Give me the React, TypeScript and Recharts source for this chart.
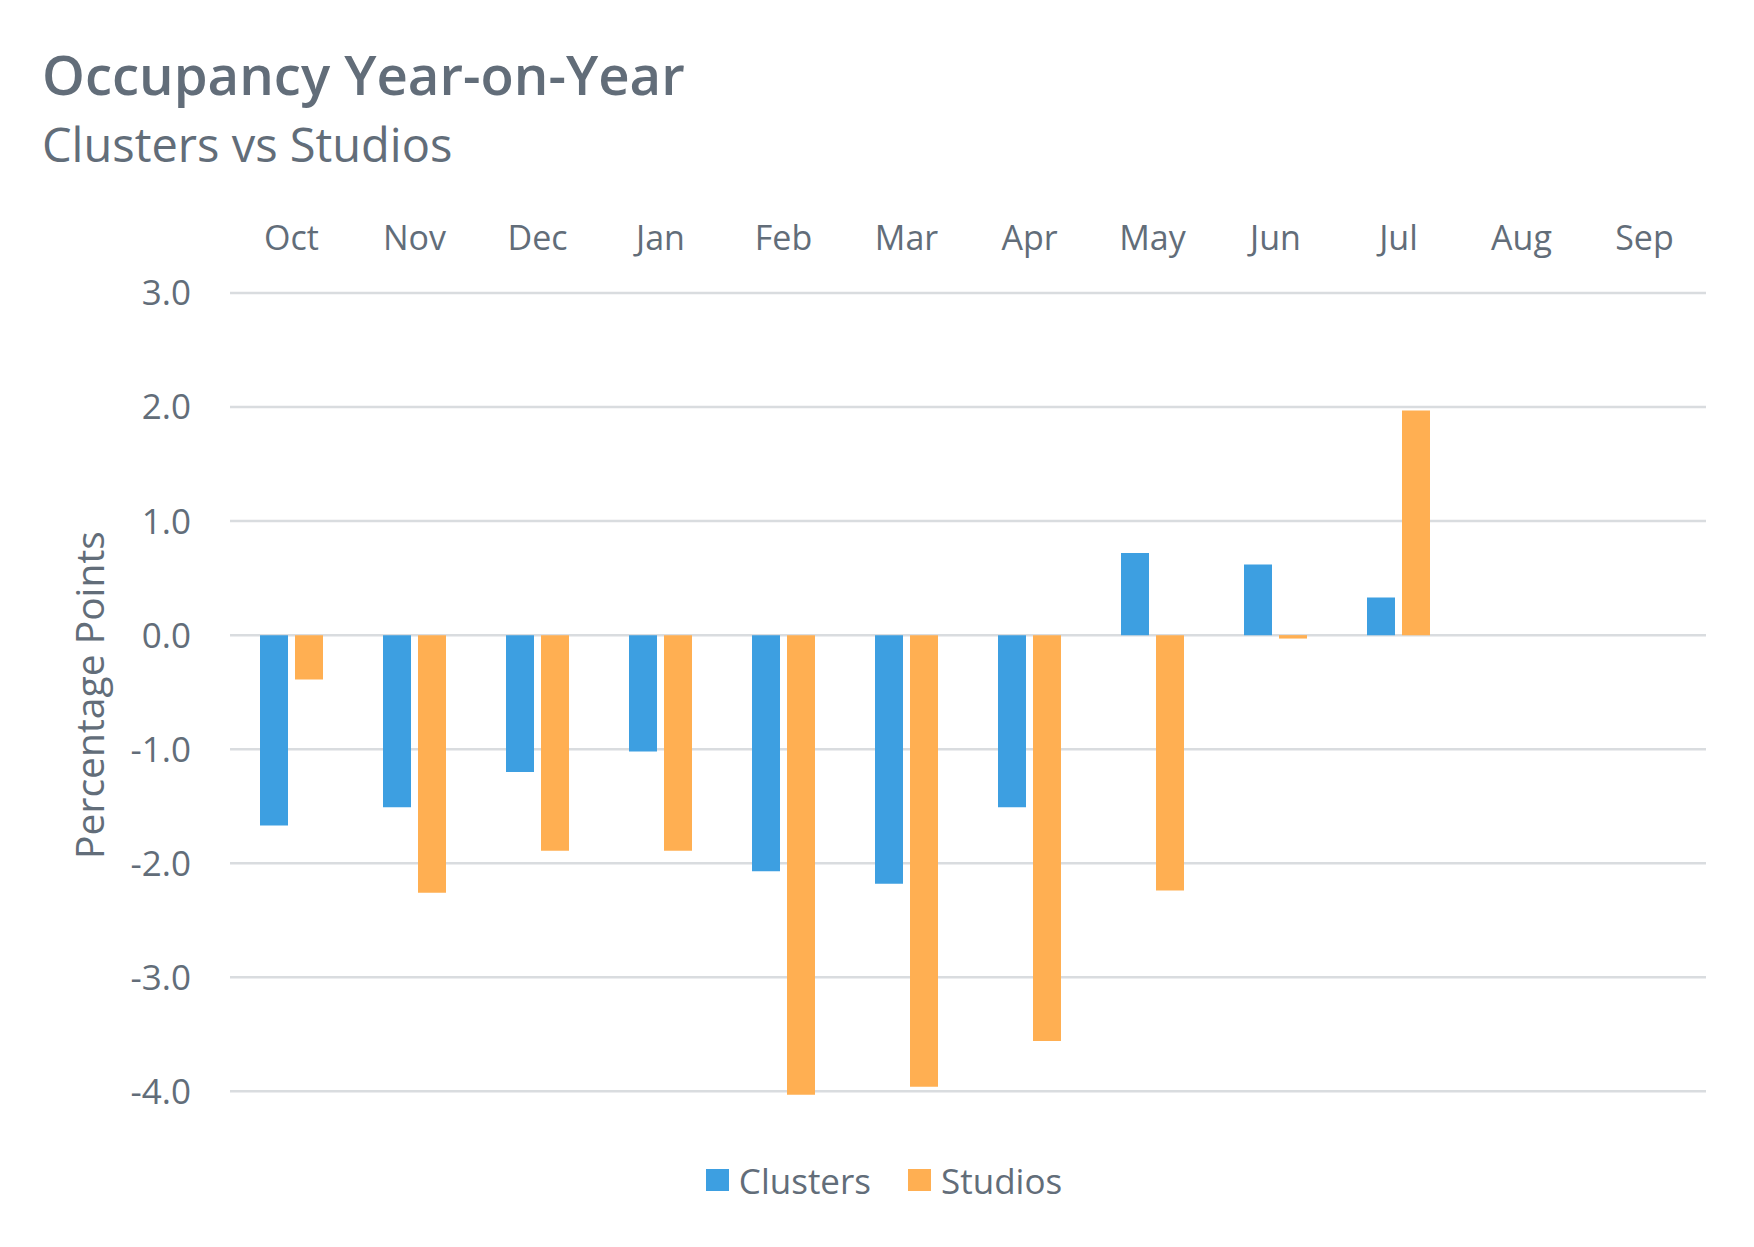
import { BarChart, Bar, XAxis, YAxis, CartesianGrid, Legend } from "recharts";

const months = ["Oct", "Nov", "Dec", "Jan", "Feb", "Mar", "Apr", "May", "Jun", "Jul", "Aug", "Sep"];
const clusters = [-1.67, -1.51, -1.2, -1.02, -2.07, -2.18, -1.51, 0.72, 0.62, 0.33, null, null];
const studios = [-0.39, -2.26, -1.89, -1.89, -4.03, -3.96, -3.56, -2.24, -0.03, 1.97, null, null];
const yTicks = [3, 2, 1, 0, -1, -2, -3, -4];

const TEXT = "#626d79";
const BLUE = "#3d9fe1";
const ORANGE = "#ffaf52";
const FONT = "'Open Sans', sans-serif";

const chartData = months.map((m, i) => ({
  month: m,
  clusters: clusters[i],
  studios: studios[i],
}));

function LegendContent() {
  const items = [
    { name: "Clusters", color: BLUE },
    { name: "Studios", color: ORANGE },
  ];
  return (
    <div
      style={{
        display: "flex",
        justifyContent: "center",
        alignItems: "center",
        height: 50,
        transform: "translateX(7px)",
        fontFamily: FONT,
        fontSize: 35,
        color: TEXT,
      }}
    >
      {items.map((it, i) => (
        <div
          key={it.name}
          style={{ display: "flex", alignItems: "center", marginLeft: i ? 37 : 0 }}
        >
          <span style={{ width: 23, height: 22, background: it.color, marginRight: 10 }} />
          <span style={{ lineHeight: 1 }}>{it.name}</span>
        </div>
      ))}
    </div>
  );
}

export default function App() {
  return (
    <div
      style={{
        position: "absolute",
        left: 0,
        top: 0,
        width: 1754,
        height: 1247,
        background: "#fff",
        fontFamily: FONT,
        overflow: "hidden",
      }}
    >
      <div
        style={{
          position: "absolute",
          left: 42,
          top: 47,
          fontSize: 54.5,
          fontWeight: 600,
          lineHeight: 1,
          color: TEXT,
          whiteSpace: "nowrap",
        }}
      >
        Occupancy Year-on-Year
      </div>
      <div
        style={{
          position: "absolute",
          left: 42,
          top: 121,
          fontSize: 47,
          lineHeight: 1,
          color: TEXT,
          whiteSpace: "nowrap",
        }}
      >
        Clusters vs Studios
      </div>
      <div style={{ position: "absolute", left: 0, top: 0 }}>
        <BarChart
          width={1754}
          height={1247}
          data={chartData}
          barSize={28}
          barGap={7}
          margin={{ top: 233, right: 48, bottom: 100, left: 150 }}
          style={{ fontFamily: FONT }}
        >
          <CartesianGrid
            vertical={false}
            horizontalValues={yTicks}
            stroke="#d9dcdf"
            strokeWidth={2.5}
          />
          <XAxis
            dataKey="month"
            orientation="top"
            height={60}
            axisLine={false}
            tickLine={false}
            tickSize={0}
            tickMargin={43}
            interval={0}
            tick={{ fontSize: 34, fill: TEXT, fontFamily: FONT }}
          />
          <YAxis
            domain={[-4.05, 3]}
            ticks={yTicks}
            width={80}
            axisLine={false}
            tickLine={false}
            tickSize={0}
            tickMargin={39}
            tickFormatter={(v: number) => v.toFixed(1)}
            tick={{ fontSize: 35, fill: TEXT, fontFamily: FONT }}
            label={{
              value: "Percentage Points",
              angle: -90,
              position: "center",
              dx: -100,
              fill: TEXT,
              fontSize: 39,
              fontFamily: FONT,
            }}
          />
          <Legend
            verticalAlign="bottom"
            height={50}
            wrapperStyle={{ left: 0, width: 1754, bottom: 42 }}
            content={<LegendContent />}
          />
          <Bar dataKey="clusters" name="Clusters" fill={BLUE} isAnimationActive={false} />
          <Bar dataKey="studios" name="Studios" fill={ORANGE} isAnimationActive={false} />
        </BarChart>
      </div>
    </div>
  );
}
